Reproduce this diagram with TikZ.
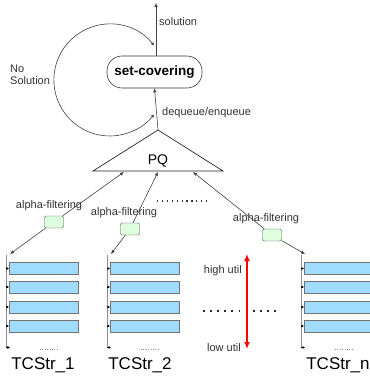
\documentclass[tikz,border=0pt]{standalone}
\usepackage{fontspec}
\setmainfont{Liberation Sans}
\usetikzlibrary{arrows.meta}
\definecolor{rowblue}{RGB}{160,220,255}
\definecolor{filtgreen}{RGB}{222,255,222}
\tikzset{
  conn/.style={draw=black!75, line width=0.6pt, -{Latex[length=4pt,width=3.5pt]}},
  lbl/.style={font=\fontsize{11}{13}\selectfont, text=black!80, inner sep=0pt},
  filt/.style={draw=black!70, fill=filtgreen, rounded corners=2pt, minimum width=19pt, minimum height=12pt, inner sep=0pt},
  strrow/.style={draw=black!55, fill=rowblue, line width=0.7pt, minimum width=69pt, minimum height=12pt, inner sep=0pt, anchor=west},
  spine/.style={draw=black!45, line width=0.8pt},
  stub/.style={draw=black, line width=0.5pt, -{Latex[length=2.5pt,width=3pt]}},
  strname/.style={font=\fontsize{17}{19}\selectfont, inner sep=0pt}
}
% one TCStr list: #1 name, #2 x of the spine
\def\tclist#1#2{
  \draw[spine] (#2,255) -- (#2,348);
  \foreach \i/\y in {1/268.5,2/287,3/307,4/326} {
    \node[strrow] (#1row\i) at (#2+3,\y) {};
    \draw[stub] (#2,\y) -- (#1row\i.west);
  }
  \coordinate (#1top) at (#2+4,254);
  \coordinate (#1end) at (#2+4,347.5);
  \draw[stub] (#2,347.5) -- (#1end);
  \draw[black!45, line width=0.8pt, dash pattern=on 0.8pt off 1.6pt] (#2+34,349) -- (#2+53,349);
}
\begin{document}
\begin{tikzpicture}[x=1pt, y=-1pt]
  \useasboundingbox (0,0) rectangle (370,376);

  %%%%% set-covering loop %%%%%
  \node[draw=black!80, line width=0.6pt, rounded corners=15pt, minimum width=95pt, minimum height=32pt,
        inner sep=0pt, font=\bfseries\fontsize{13.5}{15}\selectfont] (sc) at (154.5,72) {set-covering};
  \coordinate (sol) at (156,3);
  \draw[conn] (sc.north -| sol) -- (sol);
  \node[lbl, anchor=west] (soltext) at (159,22) {solution};

  \draw[draw=black!75, line width=0.6pt, {Latex[length=3pt,width=3.5pt]}-{Latex[length=3pt,width=3.5pt]}]
    (154,45.5) arc[start angle=-38, end angle=-322, radius=56];
  \node[lbl, anchor=west, align=left] (nosol) at (10,75) {No\\[-1pt]Solution};

  %%%%% PQ %%%%%
  \coordinate (pqtop) at (158,130);
  \draw[black!85, line width=0.7pt] (pqtop) -- (93,171) -- (223,171) -- cycle;
  \node[font=\fontsize{14}{16}\selectfont, inner sep=0pt] (pq) at (158,161) {PQ};
  \draw[conn] (pqtop) -- (sc.south);
  \node[lbl, anchor=west] (deq) at (162,113) {dequeue/enqueue};

  \coordinate (pq1) at (124,172);
  \coordinate (pq2) at (158,172);
  \coordinate (pq3) at (193,172);

  %%%%% lists %%%%%
  \tclist{a}{6}
  \tclist{b}{107}
  \tclist{n}{301}

  \node[strname] (namea) at (43,365) {TCStr\_1};
  \node[strname] (nameb) at (140,365) {TCStr\_2};
  \node[strname] (namen) at (338,365) {TCStr\_n};

  %%%%% alpha-filtering %%%%%
  \node[filt] (f1) at (54,222) {};
  \node[filt] (f2) at (130,229) {};
  \node[filt] (f3) at (272,235) {};
  \node[lbl] (fl1) at (49,206) {alpha-filtering};
  \node[lbl] (fl2) at (124,213) {alpha-filtering};
  \node[lbl] (fl3) at (266,219) {alpha-filtering};

  \draw[conn] (f1) -- (pq1);
  \draw[conn] (f2) -- (pq2);
  \draw[conn] (f3) -- (pq3);
  \draw[conn] (f1) -- (atop);
  \draw[conn] (f2) -- (btop);
  \draw[conn] (f3) -- (ntop);

  \draw[black!80, line width=1.3pt, dash pattern=on 1.3pt off 3.6pt] (157,201) -- (207,201);

  %%%%% utility axis %%%%%
  \draw[red, line width=2pt, {Latex[length=7pt,width=6pt]}-{Latex[length=7pt,width=6pt]}] (247,254) -- (247,349);
  \node[lbl, anchor=east] (high) at (242,271) {high util};
  \node[lbl, anchor=east] (low) at (241,348) {low util};
  \draw[black!85, line width=1.5pt, dash pattern=on 1.5pt off 5.6pt] (203,311) -- (241,311);
  \draw[black!85, line width=1.5pt, dash pattern=on 1.5pt off 5.6pt] (253,311) -- (276,311);
\end{tikzpicture}
\end{document}
